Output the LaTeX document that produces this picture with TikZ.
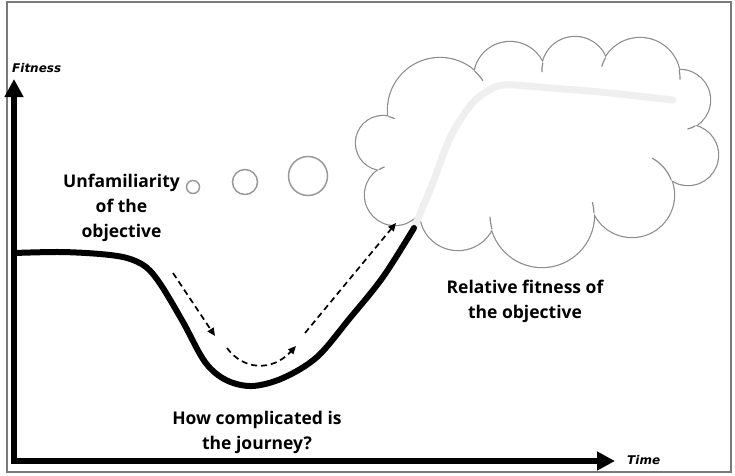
\documentclass[tikz,border=0pt]{standalone}
\usepackage{fontspec}
\setmainfont{Open Sans}
\newfontfamily\axisfont{DejaVu Sans}
\usetikzlibrary{arrows.meta}
\definecolor{cloudgray}{HTML}{8C8C8C}
\definecolor{bubblegray}{HTML}{999999}
\definecolor{ghost}{HTML}{EFEFEF}
\definecolor{framegray}{HTML}{7A7A7A}
\tikzset{
  lbl/.style={font=\fontsize{17.5}{25}\selectfont\bfseries, anchor=base, inner sep=0pt},
  axlbl/.style={font=\axisfont\fontsize{12}{14}\selectfont\bfseries\itshape, anchor=base west, inner sep=0pt},
  axisline/.style={line width=6pt, line join=miter, {Triangle[length=18pt,width=18pt]}-{Triangle[length=18pt,width=18pt]}},
  journey/.style={line width=6pt, line cap=round, line join=round},
  dasharrow/.style={line width=1.7pt, dash pattern=on 6pt off 4pt, -{Triangle[length=8pt,width=7pt]}},
  cloudline/.style={draw=cloudgray, line width=1.2pt},
  bubble/.style={draw=bubblegray, line width=1.5pt, circle, inner sep=0pt},
}
\begin{document}
\begin{tikzpicture}[x=1pt,y=-1pt]
\useasboundingbox (0,0) rectangle (735,475);
% frame
\draw[framegray, line width=1.3pt] (7,2) rectangle (731,472);

% cloud: union of circles
\def\puffs{383/143/27, 395/195/30, 458/212/38, 542/215/52, 632/195/42, 688/155/30, 680/100/30, 640/78/40, 575/70/33, 510/78/36, 440/110/52}
\foreach \cx/\cy/\cr in \puffs { \draw[cloudgray, line width=2.4pt] (\cx,\cy) circle[radius=\cr]; }
\foreach \cx/\cy/\cr in \puffs { \fill[white] (\cx,\cy) circle[radius=\cr]; }
\fill[white] (383,143) -- (395,195) -- (458,212) -- (542,215) -- (632,195) -- (688,155) -- (680,100) -- (640,78) -- (575,70) -- (510,78) -- (440,110) -- cycle;
% inner strokes of the cloud puffs
\foreach \ax/\ay/\ar/\bx/\by/\br/\e in {
  440/110/52/510/78/36/14,
  575/70/33/510/78/36/16,
  640/78/40/575/70/33/14,
  640/78/40/680/100/30/14,
  680/100/30/688/155/30/16,
  632/195/42/688/155/30/40,
  542/215/52/632/195/42/12,
  542/215/52/458/212/38/14,
  458/212/38/395/195/30/12,
  395/195/30/383/143/27/12,
  383/143/27/440/110/52/14}{
  \pgfmathsetmacro\dx{\bx-\ax}
  \pgfmathsetmacro\dy{\by-\ay}
  \pgfmathsetmacro\dd{sqrt(\dx*\dx+\dy*\dy)}
  \pgfmathsetmacro\aa{(\ar*\ar-\br*\br+\dd*\dd)/(2*\dd)}
  \pgfmathsetmacro\hh{sqrt(\ar*\ar-\aa*\aa)}
  \pgfmathsetmacro\px{\ax+\aa*\dx/\dd}
  \pgfmathsetmacro\py{\ay+\aa*\dy/\dd}
  \pgfmathsetmacro\ix{\px-\hh*\dy/\dd}
  \pgfmathsetmacro\iy{\py+\hh*\dx/\dd}
  \pgfmathsetmacro\jx{\px+\hh*\dy/\dd}
  \pgfmathsetmacro\jy{\py-\hh*\dx/\dd}
  \pgfmathsetmacro\di{((\ix-545)/100)^2+((\iy-150)/100)^2}
  \pgfmathsetmacro\dj{((\jx-545)/100)^2+((\jy-150)/100)^2}
  \pgfmathsetmacro\qx{\di>\dj ? \ix : \jx}
  \pgfmathsetmacro\qy{\di>\dj ? \iy : \jy}
  \pgfmathsetmacro\ti{atan2(\qy-\ay,\qx-\ax)}
  \pgfmathsetmacro\tb{atan2(\dy,\dx)}
  \pgfmathsetmacro\sg{sin(\tb-\ti)>0 ? 1 : -1}
  \pgfmathsetmacro\te{\ti+\sg*\e}
  \draw[cloudline] (\qx,\qy) arc[start angle=\ti, end angle=\te, radius=\ar];
}

% thought bubbles
\node[bubble, minimum size=13pt] (b1) at (193,187) {};
\node[bubble, minimum size=25pt] (b2) at (245,182) {};
\node[bubble, minimum size=39pt] (b3) at (308,176) {};

% axes
\coordinate (origin) at (14,461);
\coordinate (ytip) at (14,79);
\coordinate (xtip) at (615,461);
\draw[axisline] (ytip) -- (origin) -- (xtip);
\node[axlbl] (fit) at (12,72) {Fitness};
\node[axlbl] (tim) at (627,464) {Time};

% relative fitness (ghost curve)
\coordinate (cloudentry) at (414,228);
\draw[ghost, line width=7pt, line cap=round, line join=round] plot[smooth, tension=0.6] coordinates {(414,228) (432,185) (450,138) (470,106) (486,92) (505,85) (550,88) (600,92) (673,100)};

% journey curve
\draw[journey] plot[smooth, tension=0.55] coordinates {(14,253) (60,252) (100,254) (127,258) (146,267) (161,285) (183,322) (205,362) (226,380) (252,386) (283,378) (317,357) (350,318) (383,277) (414,228)};

% dashed arrows
\coordinate (d1s) at (173,273);
\coordinate (d1e) at (215,336);
\coordinate (d2s) at (227,348);
\coordinate (d2e) at (296,346);
\coordinate (d3s) at (305,333);
\coordinate (d3e) at (396,223);
\draw[dasharrow] (d1s) -- (d1e);
\draw[dasharrow] (d2s) .. controls (243,370) and (272,372) .. (d2e);
\draw[dasharrow] (d3s) -- (d3e);

% labels
\node[lbl] (u1) at (121.5,187) {Unfamiliarity};
\node[lbl] (u2) at (121.5,212) {of the};
\node[lbl] (u3) at (121.5,237) {objective};
\node[lbl] (r1) at (525,293) {Relative fitness of};
\node[lbl] (r2) at (525,318) {the objective};
\node[lbl] (h1) at (257,424) {How complicated is};
\node[lbl] (h2) at (257,449) {the journey?};
\end{tikzpicture}
\end{document}
